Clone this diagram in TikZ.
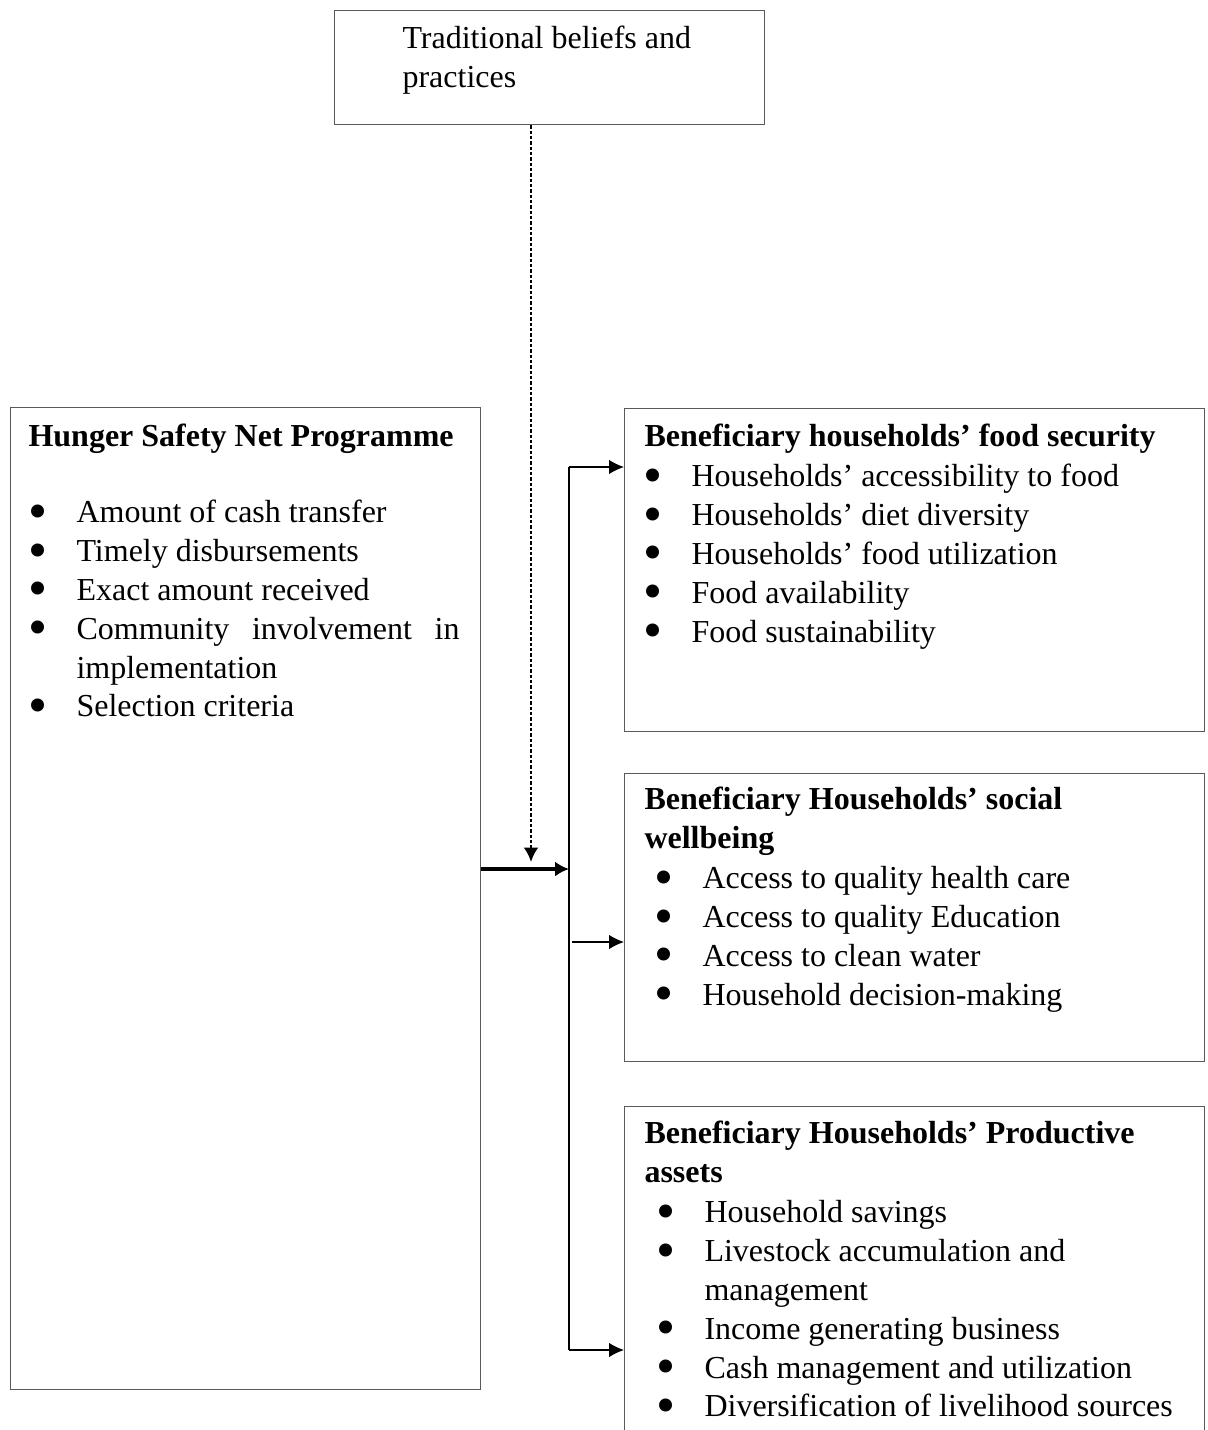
\documentclass[tikz,border=0pt]{standalone}
\usepackage{fontspec}
\setmainfont{Liberation Serif}
\usetikzlibrary{arrows.meta}
\newlength{\bulind}
\setlength{\bulind}{17.25pt}
\newcommand{\bitem}[1]{\par\hangindent=\bulind\hangafter=1\noindent\makebox[\bulind][l]{\hspace{-0.6pt}\smash{\raisebox{-2.4pt}{\scalebox{1.7}{\textbullet}}}}#1}

\begin{document}
\begin{tikzpicture}[x=0.375pt,y=-0.375pt,
  box/.style={draw=black!65, line width=0.5pt, anchor=north west, inner sep=0pt},
  txt/.style={anchor=base west, inner sep=0pt, align=left, font=\fontsize{12pt}{14.55pt}\selectfont},
  ttl/.style={txt, font=\fontsize{12pt}{14.55pt}\selectfont\bfseries},
  lst/.style={anchor=base west, inner sep=0pt, align=justify, text width=202.5pt, font=\fontsize{12pt}{14.55pt}\selectfont},
  link/.style={line width=0.5pt},
  flow/.style={line width=0.5pt, -{Latex[length=5.6pt,width=5.4pt]}},
  main/.style={line width=1.25pt, -{Latex[length=5.2pt,width=5.6pt]}},
  infl/.style={line width=1.1pt, dash pattern=on 1.3pt off 0.7pt, -{Latex[length=5.4pt,width=5.6pt]}}]
  \clip (0,0) rectangle (1208,1430);

  %% boxes
  \node[box, minimum width=161.25pt, minimum height=42.75pt] (trad) at (334,10) {};
  \node[box, minimum width=176.25pt, minimum height=368.25pt] (hsnp) at (10,407) {};
  \node[box, minimum width=217.5pt, minimum height=121.125pt] (food) at (624,408) {};
  \node[box, minimum width=217.5pt, minimum height=108pt] (social) at (624,773) {};
  \node[box, minimum width=217.5pt, minimum height=142.5pt] (assets) at (624,1106) {};

  %% texts
  \node[txt] (tradtxt) at (402,87) {Traditional beliefs and\\practices};

  \node[ttl] (hsnptitle) at (28,446) {Hunger Safety Net Programme};
  \node[lst, text width=160.875pt] (hsnplist) at (30,484) {%
    \bitem{Amount of cash transfer}
    \bitem{Timely disbursements}
    \bitem{Exact amount received}
    \bitem{Community involvement in implementation}
    \bitem{Selection criteria}};

  \node[ttl] (foodtitle) at (644,446) {Beneficiary households’ food security};
  \node[lst] (foodlist) at (645,448) {%
    \bitem{Households’ accessibility to food}
    \bitem{Households’ diet diversity}
    \bitem{Households’ food utilization}
    \bitem{Food availability}
    \bitem{Food sustainability}};

  \node[ttl] (socialtitle) at (644,848) {Beneficiary Households’ social\\wellbeing};
  \node[lst] (sociallist) at (656,850) {%
    \bitem{Access to quality health care}
    \bitem{Access to quality Education}
    \bitem{Access to clean water}
    \bitem{Household decision-making}};

  \node[ttl] (assetstitle) at (644,1182) {Beneficiary Households’ Productive\\assets};
  \node[lst] (assetslist) at (658,1184) {%
    \bitem{Household savings}
    \bitem{Livestock accumulation and\newline management}
    \bitem{Income generating business}
    \bitem{Cash management and utilization}
    \bitem{Diversification of livelihood sources}};

  %% connectors
  \coordinate (dotend) at (531,862);
  \coordinate (bus) at (569,869);
  \coordinate (b1) at (569,467);
  \coordinate (b2) at (572,942);
  \coordinate (b3) at (569,1350);
  \draw[infl] (trad.south -| dotend) -- (dotend);
  \draw[main] (hsnp.east |- bus) -- (bus);
  \draw[link] (b1) -- (b3);
  \draw[flow] (b1) -- (b1 -| food.west);
  \draw[flow] (b2) -- (b2 -| social.west);
  \draw[flow] (b3) -- (b3 -| assets.west);
\end{tikzpicture}
\end{document}
